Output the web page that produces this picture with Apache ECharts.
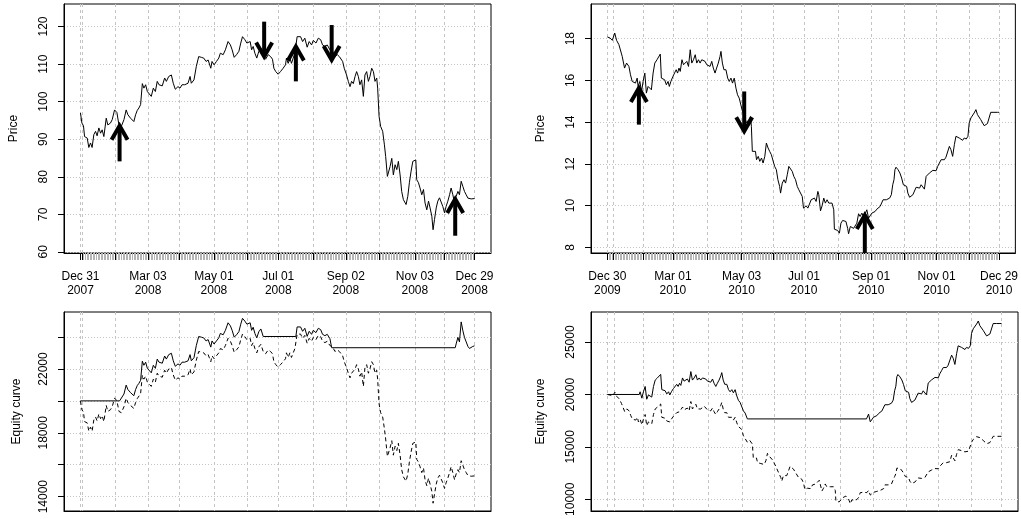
<!DOCTYPE html>
<html><head><meta charset="utf-8">
<script src="https://cdn.jsdelivr.net/npm/echarts@6/dist/echarts.min.js"></script>
<style>html,body{margin:0;padding:0;background:#fff}#c{width:1021px;height:519px}</style>
</head><body><div id="c"></div><script>
// ---------- 2008 (left column) ----------
const x2008 = [0,0.9,1.9,2.6,4.3,5.3,6.4,7.4,8.5,9.6,
10.6,11.7,12.8,13.8,14.9,16.4,17.4,19.1,20.2,21.7,
23.2,24.5,26.0,27.7,29.1,30.2,31.9,34.0,35.1,36.2,
37.2,38.3,39.4,40.4,41.5,42.6,43.8,45.1,46.4,47.7,
48.9,50.0,51.1,52.1,53.6,54.7,56.2,57.9,59.1,60.4,
62.1,63.4,64.7,66.4,68.5,69.8,70.6,72.3,73.8,75.3,
77.0,78.5,80.0,81.3,83.0,83.8,85.1,86.6,88.1,89.1,
90.9,92.3,94.0,95.5,96.6,97.9,99.4,100.9,102.1,103.2,
104.7,106.0,106.8,108.1,109.0,110.0,111.1,112.3,113.6,114.9,
116.4,117.9,119.6,121.1,122.3,123.2,124.4,125.9,127.4,129.1,
130.6,131.2,132.3,133.4,134.4,135.5,136.6,138.0,139.1,140.2,
141.5,142.9,144.4,145.7,147.2,148.3,150.0,151.5,153.0,154.2,
155.7,157.2,158.9,160.6,162.1,163.6,164.9,165.9,167.0,168.0,
169.5,170.6,171.7,172.7,173.8,174.9,175.9,177.0,178.0,179.1,
180.2,181.2,182.3,183.4,184.4,185.5,186.6,187.6,188.7,189.3,
190.2,191.2,192.5,193.6,194.4,195.5,196.3,197.2,198.3,199.3,
200.4,201.5,202.5,203.6,204.6,205.7,207.4,208.5,209.5,210.6,
211.7,212.7,213.6,214.2,215.3,216.3,217.4,218.5,219.5,220.6,
221.7,222.7,223.8,224.6,225.5,226.6,227.6,228.7,229.7,230.8,
231.9,232.9,234.0,235.1,236.1,237.2,238.3,239.3,240.4,241.4,
242.5,243.6,244.6,245.7,246.8,247.8,248.9,249.9,251.0];
const price2008 = [97.0,94.3,93.6,90.7,90.3,87.8,89.0,87.8,91.2,92.1,
90.9,93.0,91.6,92.5,90.7,95.6,93.8,94.3,95.2,97.8,
97.1,93.8,93.4,95.2,97.8,96.5,95.6,94.7,96.5,97.7,
98.3,99.2,104.8,103.6,104.5,102.7,103.2,101.4,103.6,102.7,
105.4,104.5,104.0,104.2,106.3,105.4,106.7,107.1,104.9,103.3,
104.0,103.6,104.5,104.5,104.9,106.7,104.9,105.8,109.4,112.0,
111.8,111.6,110.7,111.1,108.9,110.7,109.8,110.7,111.6,112.9,
112.5,113.8,116.0,115.1,113.8,111.8,112.5,113.4,115.6,117.3,
116.5,115.6,115.6,116.0,113.8,114.7,112.9,111.6,113.4,114.2,
112.0,111.3,112.5,112.0,111.3,108.9,108.0,107.3,108.0,108.9,
109.8,111.6,110.2,111.6,110.2,111.6,112.9,117.3,116.9,117.3,
116.0,116.9,114.5,116.0,115.1,116.3,115.6,116.9,116.5,115.1,
114.7,115.1,113.8,113.4,112.0,112.5,112.0,112.5,110.7,108.9,
107.1,105.4,104.0,105.4,104.8,106.7,108.0,106.7,104.5,105.8,
101.4,107.1,108.0,105.4,106.7,108.9,108.0,105.4,106.3,103.6,
96.1,93.4,92.1,88.5,85.4,80.1,80.5,82.7,84.9,80.5,
83.2,81.9,84.1,80.5,76.1,73.9,72.6,74.8,78.4,81.5,
84.1,84.1,84.5,79.2,78.4,77.0,75.2,76.6,73.0,71.2,
73.5,71.7,69.5,65.9,68.6,71.7,73.5,74.4,73.9,72.1,
70.4,72.1,73.5,75.2,77.0,75.2,73.0,74.8,76.1,75.2,
78.8,77.4,76.1,75.2,74.3,73.9,74.1,74.3,74.2];
const buyHold2008 = [20000,19445,19300,18702,18620,18104,18352,18104,18805,18991,
18744,19177,18888,19074,18702,19713,19342,19445,19630,20166,
20022,19342,19259,19630,20166,19898,19713,19527,19898,20146,
20269,20455,21610,21362,21548,21177,21280,20909,21362,21177,
21733,21548,21445,21486,21919,21733,22002,22084,21630,21300,
21445,21362,21548,21548,21630,22002,21630,21816,22558,23094,
23053,23012,22826,22909,22455,22826,22641,22826,23012,23280,
23198,23466,23919,23734,23466,23053,23198,23383,23837,24187,
24022,23837,23837,23919,23466,23651,23280,23012,23383,23548,
23094,22950,23198,23094,22950,22455,22270,22125,22270,22455,
22641,23012,22723,23012,22723,23012,23280,24187,24105,24187,
23919,24105,23610,23919,23734,23981,23837,24105,24022,23734,
23651,23734,23466,23383,23094,23198,23094,23198,22826,22455,
22084,21733,21445,21733,21610,22002,22270,22002,21548,21816,
20909,22084,22270,21733,22002,22455,22270,21733,21919,21362,
19816,19259,18991,18249,17609,16517,16599,17053,17506,16599,
17156,16888,17341,16599,15692,15238,14970,15424,16166,16805,
17341,17341,17424,16331,16166,15877,15506,15795,15053,14681,
15156,14785,14331,13589,14145,14785,15156,15341,15238,14867,
14516,14867,15156,15506,15877,15506,15053,15424,15692,15506,
16249,15960,15692,15506,15321,15238,15279,15321,15300];
const stratX2008 = [0,24.9,26.0,27.7,29.1,30.2,31.9,34.0,35.1,36.2,
37.2,38.3,39.4,40.4,41.5,42.6,43.8,45.1,46.4,47.7,
48.9,50.0,51.1,52.1,53.6,54.7,56.2,57.9,59.1,60.4,
62.1,63.4,64.7,66.4,68.5,69.8,70.6,72.3,73.8,75.3,
77.0,78.5,80.0,81.3,83.0,83.8,85.1,86.6,88.1,89.1,
90.9,92.3,94.0,95.5,96.6,97.9,99.4,100.9,102.1,103.2,
104.7,106.0,106.8,108.1,109.0,110.0,111.1,112.3,113.6,114.9,
116.4,137.2,138.0,139.1,140.2,141.5,142.9,144.4,145.7,147.2,
148.3,150.0,151.5,153.0,154.2,155.7,157.2,158.9,160.0,238.7,
239.3,240.4,241.4,242.5,243.6,244.6,245.7,246.8,247.8,248.9,
249.9,251.0];
const strat2008 = [20000,20000,20044,20430,20988,20709,20516,20323,20709,20966,
21095,21288,22490,22233,22426,22039,22147,21760,22233,22039,
22619,22426,22318,22361,22812,22619,22898,22984,22512,22168,
22318,22233,22426,22426,22512,22898,22512,22705,23477,24035,
23992,23949,23756,23842,23370,23756,23563,23756,23949,24228,
24143,24421,24894,24700,24421,23992,24143,24336,24808,25173,
25001,24808,24808,24894,24421,24615,24228,23949,24336,24507,
24035,24035,24633,24549,24633,24360,24549,24045,24360,24171,
24423,24276,24549,24465,24171,24087,24171,23898,23331,23331,
23569,23979,23696,24950,24389,23979,23696,23412,23286,23349,
23412,23450];
// [index, tail value, tip value]
const arrows2008 = [[24.9,84.1,93.6],[117.0,121.3,112.0],[137.2,105.4,114.7],[160.0,120.4,111.1],[238.7,64.3,74.1]];
const monthTicks2008 = [0,1,22,43,63,85,106,126,148,169,190,213,232,251];
const labelTicks2008 = [0,43,85,126,169,213,251];
const labels2008 = ['Dec 31\n2007','Mar 03\n2008','May 01\n2008','Jul 01\n2008','Sep 02\n2008','Nov 03\n2008','Dec 29\n2008'];
const priceTicks2008 = [60,70,80,90,100,110,120];
const equityTicks2008 = [14000,16000,18000,20000,22000,24000];
const equityLabels2008 = [14000,18000,22000];

// ---------- 2010 (right column) ----------
const x2010 = [0,1.7,3.2,4.7,5.9,7.4,8.9,9.5,11.0,12.3,
13.8,14.8,15.9,17.0,18.0,19.1,19.7,20.8,21.9,22.9,
24.0,25.0,26.1,27.2,28.2,29.3,30.4,31.8,32.9,33.9,
34.6,35.7,36.7,37.8,38.9,39.7,40.7,42.0,42.9,44.1,
45.0,45.9,46.7,47.8,48.8,49.9,50.9,52.0,53.1,54.1,
55.2,56.3,57.3,58.4,59.4,60.5,61.6,62.6,63.7,64.7,
65.8,66.9,67.9,69.0,70.0,71.1,72.2,72.8,73.7,74.7,
76.0,77.1,78.1,79.2,80.2,81.3,82.4,83.4,84.5,85.5,
86.6,87.7,89.1,90.6,91.7,92.3,92.9,93.8,94.9,95.6,
96.7,97.7,98.8,99.8,100.9,101.9,103.0,104.0,105.1,106.1,
107.2,108.3,109.3,110.4,111.0,112.1,113.2,114.2,115.3,116.3,
117.4,118.5,119.5,120.6,121.7,122.7,123.8,124.9,125.7,126.4,
127.4,128.5,129.6,130.6,131.7,132.7,133.8,134.9,135.5,136.6,
137.6,138.7,139.7,140.8,141.9,142.9,144.0,145.1,145.5,146.5,
147.6,148.7,149.7,150.8,151.9,152.9,154.0,154.6,155.7,156.7,
157.8,158.9,159.9,161.0,162.0,163.1,164.2,165.2,166.3,167.4,
168.4,169.5,170.5,171.6,172.7,173.7,174.8,175.9,176.7,177.8,
178.8,179.9,180.9,182.0,182.9,183.7,184.3,185.0,186.3,187.5,
188.6,189.7,190.7,191.8,192.6,193.7,194.8,195.8,196.9,197.9,
199.0,200.1,201.1,202.2,203.2,204.3,205.4,206.4,207.5,208.6,
209.6,210.7,211.7,212.8,213.9,214.9,216.0,217.0,218.1,219.2,
220.2,221.3,222.4,223.4,224.5,225.5,226.6,227.7,228.7,230.0,
231.1,231.9,233.0,234.0,235.1,236.2,237.2,238.3,239.3,240.4,
241.5,242.5,243.6,244.7,245.7,246.8,247.8,248.9,250.0,251.0];
const price2010 = [18.08,18.03,17.92,18.27,17.92,17.71,17.31,17.15,16.59,16.83,
16.67,16.27,15.95,16.03,15.87,16.11,15.71,15.95,15.47,15.95,
16.35,15.39,15.71,15.63,15.55,16.35,16.83,16.99,17.07,17.26,
16.11,16.07,16.03,15.79,15.95,15.71,15.95,16.19,16.11,16.51,
16.35,16.59,16.43,16.99,16.75,16.83,16.91,16.67,17.47,16.83,
16.99,17.23,16.83,16.99,16.83,16.99,17.07,16.91,16.75,16.83,
16.67,16.91,16.59,16.35,16.59,16.83,17.15,17.39,16.83,16.51,
16.51,16.11,15.95,16.11,15.87,16.11,15.63,15.31,15.15,15.07,
14.51,14.35,13.96,14.12,14.27,13.80,12.60,12.55,12.60,12.20,
12.36,12.12,12.28,12.04,12.36,13.00,12.76,12.60,12.44,12.36,
11.88,11.72,11.24,10.92,10.60,11.08,11.24,11.08,11.48,11.88,
11.88,11.64,11.40,11.24,10.92,10.76,10.76,10.44,9.88,9.93,
9.99,9.88,9.96,10.28,10.20,10.36,10.20,10.68,10.52,9.75,
9.99,10.36,10.12,10.28,10.12,10.20,10.12,9.80,8.87,8.84,
8.81,8.68,9.16,9.29,9.32,9.24,8.91,8.65,9.00,9.08,
8.91,9.00,9.16,9.61,9.48,9.64,9.48,9.61,9.80,9.40,
9.48,9.64,9.72,9.72,9.83,9.80,9.96,9.96,10.28,10.20,
10.28,10.28,10.36,10.52,11.00,11.24,11.72,11.84,11.72,11.56,
11.32,11.00,10.92,10.92,10.60,10.40,10.47,10.52,10.47,10.88,
10.92,10.84,11.00,10.92,10.79,11.40,11.48,11.56,11.64,11.69,
11.72,11.67,11.88,12.04,12.20,12.28,12.20,12.32,12.28,12.84,
12.68,12.36,12.92,13.32,13.24,13.24,13.16,13.13,13.24,13.19,
13.32,13.96,14.20,14.12,14.44,14.60,14.36,14.28,14.12,14.12,
13.83,13.83,13.93,13.88,14.47,14.52,14.47,14.50,14.47,14.47];
const buyHold2010 = [20000,19945,19823,20210,19823,19591,19148,18971,18352,18617,
18440,17998,17644,17732,17555,17821,17378,17644,17113,17644,
18086,17024,17378,17290,17201,18086,18617,18794,18883,19093,
17821,17777,17732,17467,17644,17378,17644,17909,17821,18263,
18086,18352,18175,18794,18529,18617,18706,18440,19325,18617,
18794,19060,18617,18794,18617,18794,18883,18706,18529,18617,
18440,18706,18352,18086,18352,18617,18971,19237,18617,18263,
18263,17821,17644,17821,17555,17821,17290,16936,16759,16670,
16051,15874,15443,15620,15785,15266,13938,13883,13938,13496,
13673,13407,13584,13319,13673,14381,14115,13938,13761,13673,
13142,12965,12434,12080,11726,12257,12434,12257,12699,13142,
13142,12876,12611,12434,12080,11903,11903,11549,10929,10985,
11051,10929,11018,11372,11283,11460,11283,11814,11637,10785,
11051,11460,11195,11372,11195,11283,11195,10841,9812,9779,
9746,9602,10133,10277,10310,10221,9856,9569,9956,10044,
9856,9956,10133,10631,10487,10664,10487,10631,10841,10398,
10487,10664,10752,10752,10874,10841,11018,11018,11372,11283,
11372,11372,11460,11637,12168,12434,12965,13097,12965,12788,
12522,12168,12080,12080,11726,11504,11582,11637,11582,12035,
12080,11991,12168,12080,11936,12611,12699,12788,12876,12931,
12965,12909,13142,13319,13496,13584,13496,13628,13584,14204,
14027,13673,14292,14735,14646,14646,14558,14524,14646,14591,
14735,15443,15708,15620,15974,16151,15885,15797,15620,15620,
15299,15299,15409,15354,16007,16062,16007,16040,16007,16007];
const stratX2010 = [0,20.2,20.8,21.9,22.9,24.0,25.0,26.1,27.2,28.2,
29.3,30.4,31.8,32.9,33.9,34.6,35.7,36.7,37.8,38.9,
39.7,40.7,42.0,42.9,44.1,45.0,45.9,46.7,47.8,48.8,
49.9,50.9,52.0,53.1,54.1,55.2,56.3,57.3,58.4,59.4,
60.5,61.6,62.6,63.7,64.7,65.8,66.9,67.9,69.0,70.0,
71.1,72.2,72.8,73.7,74.7,76.0,77.1,78.1,79.2,80.2,
81.3,82.4,83.4,84.5,85.5,86.6,87.7,89.1,165.0,165.2,
166.3,167.4,168.4,169.5,170.5,171.6,172.7,173.7,174.8,175.9,
176.7,177.8,178.8,179.9,180.9,182.0,182.9,183.7,184.3,185.0,
186.3,187.5,188.6,189.7,190.7,191.8,192.6,193.7,194.8,195.8,
196.9,197.9,199.0,200.1,201.1,202.2,203.2,204.3,205.4,206.4,
207.5,208.6,209.6,210.7,211.7,212.8,213.9,214.9,216.0,217.0,
218.1,219.2,220.2,221.3,222.4,223.4,224.5,225.5,226.6,227.7,
228.7,230.0,231.1,231.9,233.0,234.0,235.1,236.2,237.2,238.3,
239.3,240.4,241.5,242.5,243.6,244.7,245.7,246.8,247.8,248.9,
250.0,251.0];
const strat2010 = [20000,20000,20257,19647,20257,20765,19545,19952,19850,19749,
20765,21374,21577,21679,21920,20460,20409,20358,20053,20257,
19952,20257,20561,20460,20968,20765,21069,20866,21577,21273,
21374,21476,21171,22187,21374,21577,21882,21374,21577,21374,
21577,21679,21476,21273,21374,21171,21476,21069,20765,21069,
21374,21781,22085,21374,20968,20968,20460,20257,20460,20155,
20460,19850,19444,19241,19139,18428,18225,17667,17667,17779,
18130,17390,17538,17834,17982,17982,18186,18130,18426,18426,
19018,18870,19018,19018,19166,19462,20350,20794,21682,21904,
21682,21386,20942,20350,20202,20202,19610,19240,19370,19462,
19370,20128,20202,20054,20350,20202,19962,21090,21238,21386,
21534,21627,21682,21590,21978,22274,22570,22718,22570,22792,
22718,23754,23458,22866,23902,24642,24494,24494,24346,24291,
24494,24402,24642,25826,26270,26122,26714,27010,26566,26418,
26122,26122,25586,25586,25771,25678,26770,26862,26770,26825,
26770,26770];
const arrows2010 = [[20.2,13.88,15.63],[87.7,15.47,13.56],[165.0,7.70,9.55]];
const monthTicks2010 = [0,4,23,42,64,86,106,126,148,169,190,211,232,251];
const labelTicks2010 = [0,42,86,126,169,211,251];
const labels2010 = ['Dec 30\n2009','Mar 01\n2010','May 03\n2010','Jul 01\n2010','Sep 01\n2010','Nov 01\n2010','Dec 29\n2010'];
const priceTicks2010 = [8,10,12,14,16,18];
const equityTicks2010 = [10000,15000,20000,25000];

// ---------- chart ----------
const FONT = 'Liberation Sans, Arial, Helvetica, sans-serif';
const XMIN = -10.5, XMAX = 261.5;
const NOBS = 252; // observations per panel: one minor tick each
const obsIdx = [];
for (let i = 0; i < NOBS; i++) obsIdx.push(i);
const pairs = (xs, ys) => xs.map((x, i) => [x, ys[i]]);
const GRIDC = '#c4c4c4';
const TOP_H = 249;

const grids = [
  {left: 64, top: 4, width: 427, height: TOP_H},
  {left: 591, top: 4, width: 427, height: TOP_H},
  {left: 64, top: 312, width: 427, height: 199},
  {left: 591, top: 312, width: 427, height: 199}
].map(g => Object.assign({show: true, borderColor: '#000', borderWidth: 1, backgroundColor: 'transparent'}, g));

// date axis at the bottom: grey tick per observation + labels
function dateAxis(gi, labelVals, labelText) {
  return {type: 'value', gridIndex: gi, min: XMIN, max: XMAX, position: 'bottom',
    axisLine: {show: true, onZero: false, lineStyle: {color: '#000'}},
    axisTick: {show: true, length: 7, customValues: obsIdx, lineStyle: {color: '#b4b4b4', width: 1}},
    axisLabel: {show: true, customValues: labelVals, margin: 17, color: '#000', fontSize: 12,
      fontFamily: FONT, lineHeight: 14,
      formatter: v => { const i = labelVals.indexOf(v); return i >= 0 ? labelText[i] : ''; }},
    splitLine: {show: false}};
}
// month axis: black month ticks (moved down onto the bottom edge) + vertical grid lines
function monthAxis(gi, ticks, showTicks) {
  return {type: 'value', gridIndex: gi, min: XMIN, max: XMAX,
    position: showTicks ? 'top' : 'bottom', offset: showTicks ? -TOP_H : 0,
    axisLine: {show: !showTicks, onZero: false, lineStyle: {color: '#000'}},
    axisTick: {show: showTicks, inside: true, length: 7, customValues: ticks, lineStyle: {color: '#000', width: 1}},
    axisLabel: {show: false},
    splitLine: {show: true, lineStyle: {color: GRIDC, type: [3, 3], width: 1}}};
}
function yAxis(gi, min, max, ticks, labelVals, name, gap) {
  return {type: 'value', gridIndex: gi, min, max, name, nameLocation: 'middle', nameGap: gap,
    nameTextStyle: {color: '#000', fontSize: 12, fontFamily: FONT},
    axisLine: {show: true, onZero: false, lineStyle: {color: '#000'}},
    axisTick: {show: true, length: 6, customValues: ticks, lineStyle: {color: '#000'}},
    axisLabel: {customValues: labelVals, rotate: 90, margin: 14, color: '#000', fontSize: 12, fontFamily: FONT,
      formatter: v => String(v)},
    splitLine: {show: true, lineStyle: {color: GRIDC, type: [1, 2], width: 1}}};
}
function renderArrow(params, api) {
  const x = api.value(0), yTail = api.value(1), yTip = api.value(2);
  const p0 = api.coord([x, yTail]), p1 = api.coord([x, yTip]);
  const dir = p1[1] < p0[1] ? 1 : -1;
  const hl = 14, hw = 8;
  const st = {stroke: '#000', lineWidth: 4, fill: null, lineCap: 'butt', lineJoin: 'miter'};
  return {type: 'group', children: [
    {type: 'line', shape: {x1: p0[0], y1: p0[1], x2: p1[0], y2: p1[1] + dir * 2}, style: st},
    {type: 'polyline', shape: {points: [[p1[0] - hw, p1[1] + dir * hl], [p1[0], p1[1]], [p1[0] + hw, p1[1] + dir * hl]]}, style: st}
  ]};
}
function lineSeries(xi, yi, data, dashed) {
  return {type: 'line', xAxisIndex: xi, yAxisIndex: yi, data, showSymbol: false, symbol: 'none',
    lineStyle: {color: '#000', width: 1, type: dashed ? [4, 3] : 'solid'}, clip: true, z: 3, silent: true};
}

const option = {
  animation: false,
  backgroundColor: '#fff',
  grid: grids,
  xAxis: [
    dateAxis(0, labelTicks2008, labels2008),
    monthAxis(0, monthTicks2008, true),
    dateAxis(1, labelTicks2010, labels2010),
    monthAxis(1, monthTicks2010, true),
    monthAxis(2, monthTicks2008, false),
    monthAxis(3, monthTicks2010, false)
  ],
  yAxis: [
    yAxis(0, 59.7, 126, priceTicks2008, priceTicks2008, 'Price', 44),
    yAxis(1, 7.73, 19.66, priceTicks2010, priceTicks2010, 'Price', 44),
    yAxis(2, 13100, 25570, equityTicks2008, equityLabels2008, 'Equity curve', 41),
    yAxis(3, 8880, 27870, equityTicks2010, equityTicks2010, 'Equity curve', 44)
  ],
  series: [
    lineSeries(0, 0, pairs(x2008, price2008), false),
    {type: 'custom', xAxisIndex: 0, yAxisIndex: 0, data: arrows2008, renderItem: renderArrow, clip: true, z: 4, silent: true, encode: {x: 0, y: [1, 2]}},
    lineSeries(2, 1, pairs(x2010, price2010), false),
    {type: 'custom', xAxisIndex: 2, yAxisIndex: 1, data: arrows2010, renderItem: renderArrow, clip: true, z: 4, silent: true, encode: {x: 0, y: [1, 2]}},
    lineSeries(4, 2, pairs(x2008, buyHold2008), true),
    lineSeries(4, 2, pairs(stratX2008, strat2008), false),
    lineSeries(5, 3, pairs(x2010, buyHold2010), true),
    lineSeries(5, 3, pairs(stratX2010, strat2010), false)
  ]
};
const chart = echarts.init(document.getElementById('c'), null, {renderer: 'canvas'});
chart.setOption(option);
</script></body></html>
